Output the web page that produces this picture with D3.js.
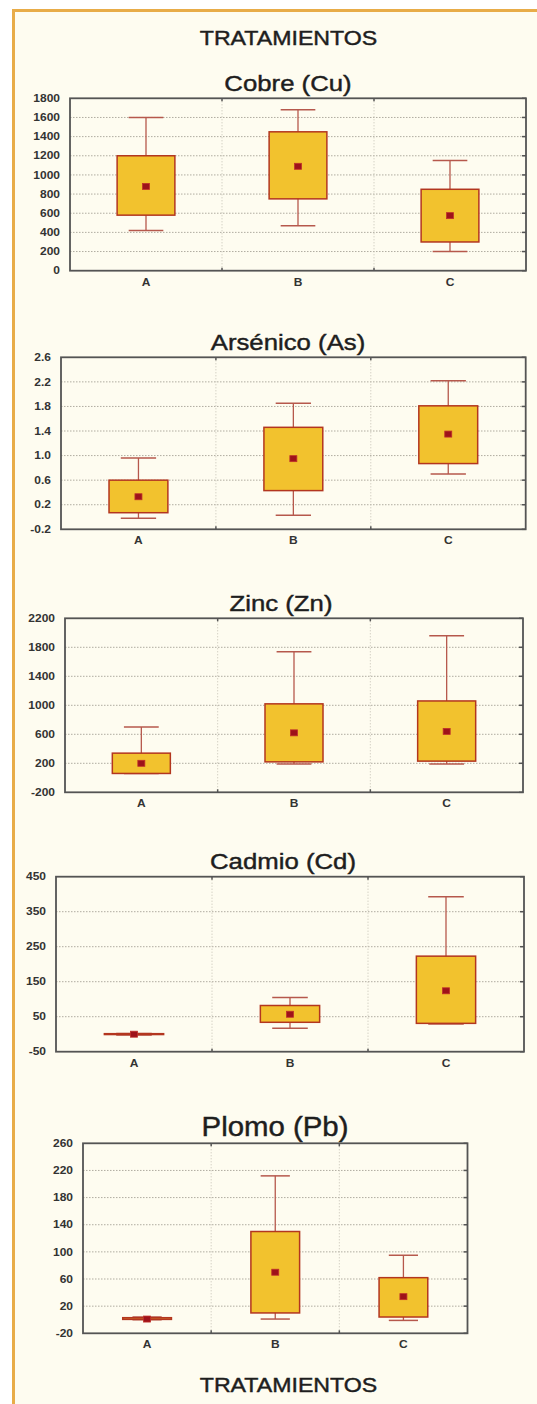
<!DOCTYPE html>
<html>
<head>
<meta charset="utf-8">
<script src="https://cdn.jsdelivr.net/npm/d3@7"></script>
<style>
  body { margin: 0; background: #ffffff; }
  svg { display: block; }
</style>
</head>
<body>
<div id="chart"></div>
<script>
// treatments
var categories = ["A", "B", "C"];

// each row: [min, q1, mean, q3, max] for A, B, C
var cobre    = [[420, 580, 880, 1200, 1600], [470, 750, 1090, 1450, 1680], [200, 300, 575, 850, 1150]];
var arsenico = [[-0.02, 0.07, 0.33, 0.6, 0.96], [0.03, 0.43, 0.95, 1.46, 1.85], [0.7, 0.87, 1.35, 1.81, 2.22]];
var zinc     = [[60, 60, 200, 340, 700], [190, 220, 620, 1020, 1740], [190, 230, 640, 1060, 1960]];
var cadmio   = [[-2, -1, 0, 1.5, 2], [17, 34, 57, 82, 105], [29, 31, 124, 223, 393]];
var plomo    = [[0, 0.5, 1, 3, 4], [1, 10, 70, 130, 212], [-1, 4, 34, 62, 95]];

// tick labels
var cobreTicks    = [0, 200, 400, 600, 800, 1000, 1200, 1400, 1600, 1800];
var arsenicoTicks = [-0.2, 0.2, 0.6, 1.0, 1.4, 1.8, 2.2, 2.6];
var zincTicks     = [-200, 200, 600, 1000, 1400, 1800, 2200];
var cadmioTicks   = [-50, 50, 150, 250, 350, 450];
var plomoTicks    = [-20, 20, 60, 100, 140, 180, 220, 260];

var W = 537, H = 1404;

// layout of the five stacked plots
var panels = [
  {title: "Cobre (Cu)",    data: cobre,    ticks: cobreTicks,    fmt: function(d) { return String(d); },
   left: 70, right: 526, top: 98.3, bottom: 270.7, titleX: 288, titleSize: 23},
  {title: "Arsénico (As)", data: arsenico, ticks: arsenicoTicks, fmt: function(d) { return d.toFixed(1); },
   left: 61, right: 525.7, top: 357.3, bottom: 529.3, titleX: 288, titleSize: 23},
  {title: "Zinc (Zn)",     data: zinc,     ticks: zincTicks,     fmt: function(d) { return String(d); },
   left: 65, right: 523, top: 618.3, bottom: 792.3, titleX: 281, titleSize: 23},
  {title: "Cadmio (Cd)",   data: cadmio,   ticks: cadmioTicks,   fmt: function(d) { return String(d); },
   left: 56, right: 524, top: 876.7, bottom: 1051.7, titleX: 283, titleSize: 23},
  {title: "Plomo (Pb)",    data: plomo,    ticks: plomoTicks,    fmt: function(d) { return String(d); },
   left: 83, right: 467.5, top: 1143.3, bottom: 1333.3, titleX: 275, titleSize: 28}
];

var svg = d3.select("#chart")
  .append("svg")
  .attr("width", W)
  .attr("height", H);

// cream page with the orange frame on the left and top
svg.append("rect")
  .attr("x", 12).attr("y", 9)
  .attr("width", W - 12).attr("height", H - 9)
  .attr("fill", "#fefcf0");
svg.append("line")
  .attr("x1", 13.5).attr("x2", 13.5).attr("y1", 9).attr("y2", H)
  .attr("stroke", "#e8ac48").attr("stroke-width", 3);
svg.append("line")
  .attr("x1", 12).attr("x2", W).attr("y1", 10.5).attr("y2", 10.5)
  .attr("stroke", "#e8ac48").attr("stroke-width", 3);

var font = "'Liberation Sans', Arial, sans-serif";

function heading(x, y, size, sx, txt) {
  svg.append("text")
    .attr("transform", "translate(" + x + "," + y + ") scale(" + sx + ",1)")
    .attr("text-anchor", "middle")
    .attr("font-family", font)
    .attr("font-size", size + "px")
    .attr("fill", "#1e1e1e")
    .attr("stroke", "#1e1e1e")
    .attr("stroke-width", 0.45)
    .text(txt);
}

heading(288.5, 45, 20.5, 1.13, "TRATAMIENTOS");
heading(288.5, 1391.5, 20.5, 1.13, "TRATAMIENTOS");

panels.forEach(function(p) {
  var x = d3.scaleBand()
    .domain(categories)
    .range([p.left, p.right]);

  var y = d3.scaleLinear()
    .domain([p.ticks[0], p.ticks[p.ticks.length - 1]])
    .range([p.bottom, p.top]);

  var g = svg.append("g");

  // grid
  g.selectAll(".hgrid")
    .data(p.ticks.slice(1, -1))
    .enter().append("line")
    .attr("x1", p.left).attr("x2", p.right)
    .attr("y1", function(d) { return y(d); })
    .attr("y2", function(d) { return y(d); })
    .attr("stroke", "#b0aca0")
    .attr("stroke-width", 1)
    .attr("stroke-dasharray", "1.5,1.5");

  g.selectAll(".vgrid")
    .data(categories.slice(1))
    .enter().append("line")
    .attr("x1", function(d) { return x(d); })
    .attr("x2", function(d) { return x(d); })
    .attr("y1", p.top).attr("y2", p.bottom)
    .attr("stroke", "#c4c0b4")
    .attr("stroke-width", 1)
    .attr("stroke-dasharray", "1,2");

  // small inward ticks on the right side and at the band edges
  g.selectAll(".rtick")
    .data(p.ticks)
    .enter().append("line")
    .attr("x1", p.right - 4).attr("x2", p.right)
    .attr("y1", function(d) { return y(d); })
    .attr("y2", function(d) { return y(d); })
    .attr("stroke", "#555").attr("stroke-width", 1.5);

  categories.slice(1).forEach(function(c) {
    [[p.top, p.top + 3], [p.bottom - 3, p.bottom]].forEach(function(s) {
      g.append("line")
        .attr("x1", x(c)).attr("x2", x(c))
        .attr("y1", s[0]).attr("y2", s[1])
        .attr("stroke", "#555").attr("stroke-width", 1.5);
    });
  });

  var bw = x.bandwidth() * 0.38;
  var cw = bw * 0.6;

  var box = g.selectAll(".box")
    .data(p.data)
    .enter().append("g")
    .attr("transform", function(d, i) { return "translate(" + (x(categories[i]) + x.bandwidth() / 2) + ",0)"; });

  // whiskers
  box.append("line")
    .attr("x1", 0).attr("x2", 0)
    .attr("y1", function(d) { return y(d[4]); })
    .attr("y2", function(d) { return y(d[0]); })
    .attr("stroke", "#b6584c").attr("stroke-width", 1.3);
  box.append("line")
    .attr("x1", -cw / 2).attr("x2", cw / 2)
    .attr("y1", function(d) { return y(d[4]); })
    .attr("y2", function(d) { return y(d[4]); })
    .attr("stroke", "#b6584c").attr("stroke-width", 1.5);
  box.append("line")
    .attr("x1", -cw / 2).attr("x2", cw / 2)
    .attr("y1", function(d) { return y(d[0]); })
    .attr("y2", function(d) { return y(d[0]); })
    .attr("stroke", "#b6584c").attr("stroke-width", 1.5);

  // box q1..q3
  box.append("rect")
    .attr("x", -bw / 2)
    .attr("width", bw)
    .attr("y", function(d) { return y(d[3]); })
    .attr("height", function(d) { return Math.max(0.5, y(d[1]) - y(d[3])); })
    .attr("fill", "#f2c22e")
    .attr("stroke", "#b3361f")
    .attr("stroke-width", 1.5);

  // mean marker
  box.append("rect")
    .attr("x", -3.5).attr("width", 7)
    .attr("y", function(d) { return y(d[2]) - 3; })
    .attr("height", 6)
    .attr("fill", "#9e121a")
    .attr("stroke", "#c0302a")
    .attr("stroke-width", 0.8);

  // frame
  g.append("rect")
    .attr("x", p.left).attr("y", p.top)
    .attr("width", p.right - p.left).attr("height", p.bottom - p.top)
    .attr("fill", "none")
    .attr("stroke", "#545454")
    .attr("stroke-width", 1.8);

  // axes
  var sx = 1.2;
  var gy = g.append("g")
    .attr("transform", "translate(" + p.left + ",0)")
    .call(d3.axisLeft(y).tickValues(p.ticks).tickFormat(p.fmt).tickSize(0).tickPadding(10));
  gy.select(".domain").remove();
  gy.selectAll("text")
    .attr("x", -10 / sx)
    .attr("transform", "scale(" + sx + ",1)")
    .attr("font-family", font)
    .attr("font-size", "10px")
    .attr("font-weight", "bold")
    .attr("fill", "#333");

  var gx = g.append("g")
    .attr("transform", "translate(0," + p.bottom + ")")
    .call(d3.axisBottom(x).tickSize(0).tickPadding(8));
  gx.select(".domain").remove();
  gx.selectAll("text")
    .attr("transform", "scale(" + sx + ",1)")
    .attr("font-family", font)
    .attr("font-size", "10px")
    .attr("font-weight", "bold")
    .attr("fill", "#333");
  gx.selectAll(".tick")
    .attr("transform", function(d) { return "translate(" + (x(d) + x.bandwidth() / 2) + ",0)"; });

  heading(p.titleX, p.top - 7.5, p.titleSize, p.titleSize > 25 ? 1.05 : 1.12, p.title);
});
</script>
</body>
</html>
